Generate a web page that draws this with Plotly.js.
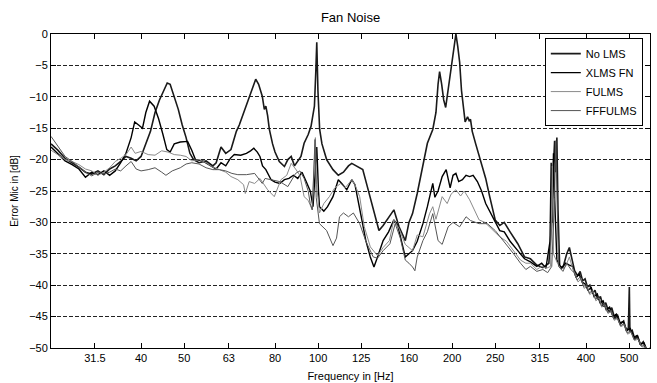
<!DOCTYPE html>
<html>
<head>
<meta charset="utf-8">
<script src="https://cdn.plot.ly/plotly-3.0.1.min.js"></script>
<style>html,body{margin:0;padding:0;background:#fff}#chart{width:657px;height:383px}</style>
</head>
<body>
<div id="chart"></div>
<script>
// Tick positions (third-octave band centres, Hz)
const tickFreqs = [31.5, 40, 50, 63, 80, 100, 125, 160, 200, 250, 315, 400, 500];
const tickLabels = ['31.5', '40', '50', '63', '80', '100', '125', '160', '200', '250', '315', '400', '500'];
const seriesNames = ['No LMS', 'XLMS FN', 'FULMS', 'FFFULMS'];

// No LMS
const freqNoLMS = [25.1,26,27,28,29,30,31,32,33,34,35,36,37,38,39,40,41,42,43,44,45,45.8,46.5,47.5,48.5,49.5,50.5,51.5,52.5,54,56,58,59,60.5,62,63.7,64.5,65.5,66.5,68,69,70.5,72.4,73.5,74.9,75.7,76.3,77,77.7,79,80,81.8,84,85.5,87,88.5,90,91.5,93,95,96.4,98.1,98.8,99.3,99.9,100.8,102,104.5,108,111,114,117,119,122,126,129,133,137,140,144.6,148,152,157,160,163,167,172,176,181,184,186,187.5,189.5,191.5,193.5,195.5,198,201,204,206,208,210,212,214,216.7,218.5,220,222,226,229,233.6,238,243,250,256,262,270,281,291,300,310,320,330,335,338,340,342,344,346,349,355,362,367,372,377,383,388,393,398,403,408,414,419,425,431,437,443,450,457,464,471,478,486,493,498,500.5,502,508,515,522,530,538,545,557];
const dbNoLMS = [-17.5,-18.5,-19.8,-20.5,-21.2,-22,-22.3,-21.8,-22.4,-21.5,-21,-20.3,-19.5,-19.8,-20.2,-19.5,-17.5,-15.5,-12.5,-10.5,-9,-7.8,-8,-10,-12,-14.5,-16.5,-19,-20,-20.5,-20.2,-21,-20.5,-18,-19,-18.4,-17,-15.5,-14.5,-12.5,-11.5,-9.5,-7.2,-8,-9.9,-12,-11.5,-13,-15.2,-17.5,-18.8,-20.3,-21.1,-20,-19.5,-21,-20.3,-19.5,-17.4,-16,-14.7,-11.5,-6,-1.3,-9,-15.2,-17.5,-20,-21.6,-22.5,-22,-21,-20.6,-21,-21.6,-24.3,-28,-31.3,-30.5,-29.1,-28,-30.7,-32.9,-30,-28.6,-25.4,-20.6,-17.4,-15.2,-12.5,-8,-6,-8,-10.5,-11.7,-9.5,-6.5,-3,0,-2,-4.5,-9,-12,-14,-13.2,-13.8,-13.6,-15.5,-17.5,-19,-21,-23,-25.9,-29.6,-30.5,-30,-31.5,-33.4,-35.5,-35.8,-36.8,-37.2,-36.5,-30,-21,-17,-22,-16.5,-28,-37,-37.2,-35,-34,-36,-37.7,-38.5,-37.8,-39.3,-39,-40.3,-40,-41.3,-40.8,-42.3,-41.8,-43.4,-42.8,-44.3,-43.6,-45.3,-44.8,-46.2,-45.7,-47.3,-46.8,-40.3,-47.5,-47.2,-48.6,-48,-49.5,-49,-50.2,-50.8];

// XLMS FN
const freqXLMS = [25.1,26,27,28,29,30,31,32,33,34,35,36,37,38,38.7,39.5,40.3,41,41.8,42.8,43.8,44.8,45.7,46.5,47.5,49,50.9,52,53,55,57,59,60.5,62,63.5,64.8,67,69,70.5,71.7,73,74,75,76.3,78.4,80,82,84,86,88,90,92,94,96,97.4,98.5,99.3,100.2,100.7,103,105,108,111,113,116,119,121,125,128,131,133.5,136,138,140,144,148,151,155,157,160,163,167,172,176,181,183,186,190,194,198,201,204,207,211,215,219,223,228,233,238,243,247,252,256,262,270,281,291,300,310,318,325,332,334,336,338,340,344,352,360,367,373,380,386,392,398,404,411,417,424,430,437,444,452,460,468,476,485,494,503,512,521,530,540,549,557];
const dbXLMS = [-18,-19,-20.2,-20.8,-21.5,-22.8,-22,-22.4,-21.8,-22.5,-21.8,-20.5,-19,-16.5,-14,-14.5,-15,-12.5,-10.7,-11.5,-13.5,-16,-18.4,-18.8,-17.5,-17.2,-17.1,-18.5,-20,-20.2,-20.8,-21.5,-20.5,-21,-19.8,-19.2,-19.3,-19,-18.6,-18.2,-18.8,-19.5,-21,-21.6,-23.2,-23.6,-23.8,-23.2,-23,-22.5,-23,-22,-23.5,-25,-27.5,-22,-18,-25,-27.5,-28.2,-27.5,-25.9,-23.2,-23.8,-24.8,-23.2,-24,-29.1,-32.9,-35.5,-37.1,-35.5,-34,-32.9,-31.5,-29.6,-30.5,-33.9,-35.5,-35,-34.5,-33,-30.2,-27.5,-23.8,-26,-25,-22.7,-21.6,-24.5,-22.5,-22.2,-23.5,-23.2,-22.5,-22.7,-22.5,-23.5,-25,-27,-28.2,-29.1,-30.5,-31.3,-31.5,-33,-34.5,-35.8,-36.3,-37,-36.5,-37.3,-33,-20.5,-30,-19,-26,-36,-37.3,-36.5,-36.8,-37,-38.8,-38.2,-39.5,-39.8,-40.8,-40.4,-41.8,-41.4,-42.8,-42.5,-43.9,-43.5,-45,-44.6,-46,-45.8,-47.2,-46.9,-48.3,-48,-49.4,-49.2,-50.4,-50];

// FULMS
const freqFULMS = [25.1,26,27,28,29,30,31,32,33,34,35,36,37,38,38.8,40,41.5,43,44.5,46,47.5,49,50.5,52,54,56,58,60,62,63.7,66,68,68.6,70,72,74,77,79.7,82.5,85,87,89,91,93,95,97,98,98.6,99.2,100.7,103,106,109,112.4,115,119,121,124,127,131,136,140,144.6,148,152,157,163,167,172,178,181,184,190,195,199,204,209,213,219,223,230,237,243,250,256,265,275,285,293,300,310,318,326,333,336,338,345,352,360,367,372,378,384,390,396,402,408,415,421,428,434,441,448,456,463,471,479,488,496,505,514,524,534,545,557];
const dbFULMS = [-18.5,-19.2,-20,-20.3,-20.8,-21.5,-21.8,-22.5,-22,-21.3,-20.3,-19.8,-19.2,-18,-19,-18.7,-19.2,-19.3,-18.6,-18.8,-19.2,-19.3,-19.5,-20.2,-20,-20.5,-21.2,-21.6,-22,-22.7,-23.2,-24,-25.4,-23.5,-23.8,-23,-24.8,-25.9,-23.2,-22.5,-20.6,-21.5,-22.5,-25.9,-26.5,-28,-20,-16.5,-24,-28.5,-27,-25.9,-24.5,-23.8,-24.5,-23.2,-24,-25.9,-30.7,-33.9,-35.3,-34,-32.9,-29.6,-31,-33.5,-34.5,-32,-32.3,-28.6,-27.5,-29.5,-25.9,-27,-25.5,-24.8,-25.8,-25,-26.4,-27.5,-29.6,-30,-30.7,-31.5,-32.3,-33,-34.5,-36,-36.5,-36.5,-37.5,-37,-37.3,-37,-21,-35,-36.5,-37.5,-37,-35.5,-37,-38.3,-39.5,-38.9,-40.5,-40.2,-41.5,-41,-42.5,-42,-43.5,-43.1,-44.5,-44.2,-45.6,-45.3,-46.6,-46.3,-47.8,-47.5,-48.8,-48.6,-49.8,-49.9,-50.5];

// FFFULMS
const freqFFFULMS = [25.1,26,27,28,29,30,31,32,33,34,35,36,37,38,39,40,41.5,43,44.5,45.5,47,49,50.5,52,54,56,58,60,62,64,66,69,72,74.9,76,79,82,85.5,89,91,93,95,96,97,97.8,98.4,99,100.7,104.5,108,110,111.7,114,117,120,124,128,133,136,140,145,149,153,157,160,163,165,167,172,176,181,186,190,196,201,208,215,220,230,240,250,258,265,275,285,293,300,310,320,328,335,340,342,344,347,355,362,370,376,382,388,395,401,407,413,420,427,433,440,447,454,462,470,478,487,495,504,513,522,532,542,557];
const dbFFFULMS = [-16.3,-17.8,-19.5,-20.3,-21.2,-22,-22.6,-22,-22.3,-22,-21.5,-21.8,-21,-20.3,-21.5,-21.8,-21.6,-21.3,-22,-22.5,-21.8,-21.3,-20.7,-20.5,-20.7,-21.3,-21.6,-21.6,-21.8,-22.2,-22.4,-22.4,-22.2,-23.8,-23,-23.2,-23.5,-24.3,-22.2,-21.8,-23,-25,-27,-28,-21,-16.8,-26,-30.2,-31.3,-33.7,-32.5,-29.1,-28.5,-29.1,-28.5,-30.2,-33,-35.5,-35.7,-34.5,-33.4,-30.2,-32.5,-36,-36.5,-37.1,-37.7,-35.5,-32.9,-31.5,-28.6,-32.9,-33.5,-30.7,-30,-30.7,-29.1,-29.7,-30.2,-30.2,-31.3,-32.5,-33.5,-35,-36.5,-37.5,-37,-37.8,-37.5,-38,-37,-26,-17,-25,-37,-37.8,-36.5,-37.5,-38,-39.2,-38.7,-40.2,-39.9,-41.3,-40.8,-42.2,-42,-43.3,-42.9,-44.3,-44,-45.4,-45.2,-46.5,-46.1,-47.6,-47.3,-48.7,-48.4,-49.7,-49.6,-50.8];

const xs = [freqNoLMS, freqXLMS, freqFULMS, freqFFFULMS];
const ys = [dbNoLMS, dbXLMS, dbFULMS, dbFFFULMS];
const colors = ['#1a1a1a', '#000000', '#8a8a8a', '#555555'];
const widths = [1.6, 1.4, 1, 1];

const traces = seriesNames.map((n, i) => ({
  x: xs[i], y: ys[i], name: n, type: 'scatter', mode: 'lines',
  line: {color: colors[i], width: widths[i]}
}));

const font = 'Liberation Sans, Arial, sans-serif';
const layout = {
  width: 657, height: 383,
  margin: {l: 51, r: 7, t: 34, b: 35},
  paper_bgcolor: '#fff', plot_bgcolor: '#fff',
  font: {family: font, size: 11, color: '#000'},
  showlegend: true,
  title: {text: 'Fan Noise', font: {family: font, size: 13, color: '#000'},
          x: 0.5, xref: 'paper', y: 0.955, yref: 'container', yanchor: 'middle'},
  xaxis: {
    type: 'log', range: [Math.log10(25.1), Math.log10(557)],
    tickvals: tickFreqs, ticktext: tickLabels,
    showgrid: false, zeroline: false,
    showline: true, linecolor: '#000', linewidth: 1, mirror: 'ticks',
    ticks: 'inside', ticklen: 5, tickcolor: '#000',
    tickfont: {size: 11},
    title: {text: 'Frequency in [Hz]', font: {size: 11}, standoff: 9}
  },
  yaxis: {
    range: [-50, 0], tickvals: [0,-5,-10,-15,-20,-25,-30,-35,-40,-45,-50],
    showgrid: true, gridcolor: '#222', gridwidth: 1, griddash: '4px,2px',
    zeroline: false,
    showline: true, linecolor: '#000', linewidth: 1, mirror: 'ticks',
    ticks: 'inside', ticklen: 5, tickcolor: '#000',
    tickfont: {size: 11},
    title: {text: 'Error Mic in [dB]', font: {size: 10}, standoff: 8}
  },
  legend: {
    x: 0.988, y: 0.987, xanchor: 'right', yanchor: 'top',
    bgcolor: '#fff', bordercolor: '#000', borderwidth: 1,
    font: {size: 11}, tracegroupgap: 0, itemwidth: 30
  }
};

Plotly.newPlot('chart', traces, layout, {displayModeBar: false, staticPlot: true});
</script>
</body>
</html>
